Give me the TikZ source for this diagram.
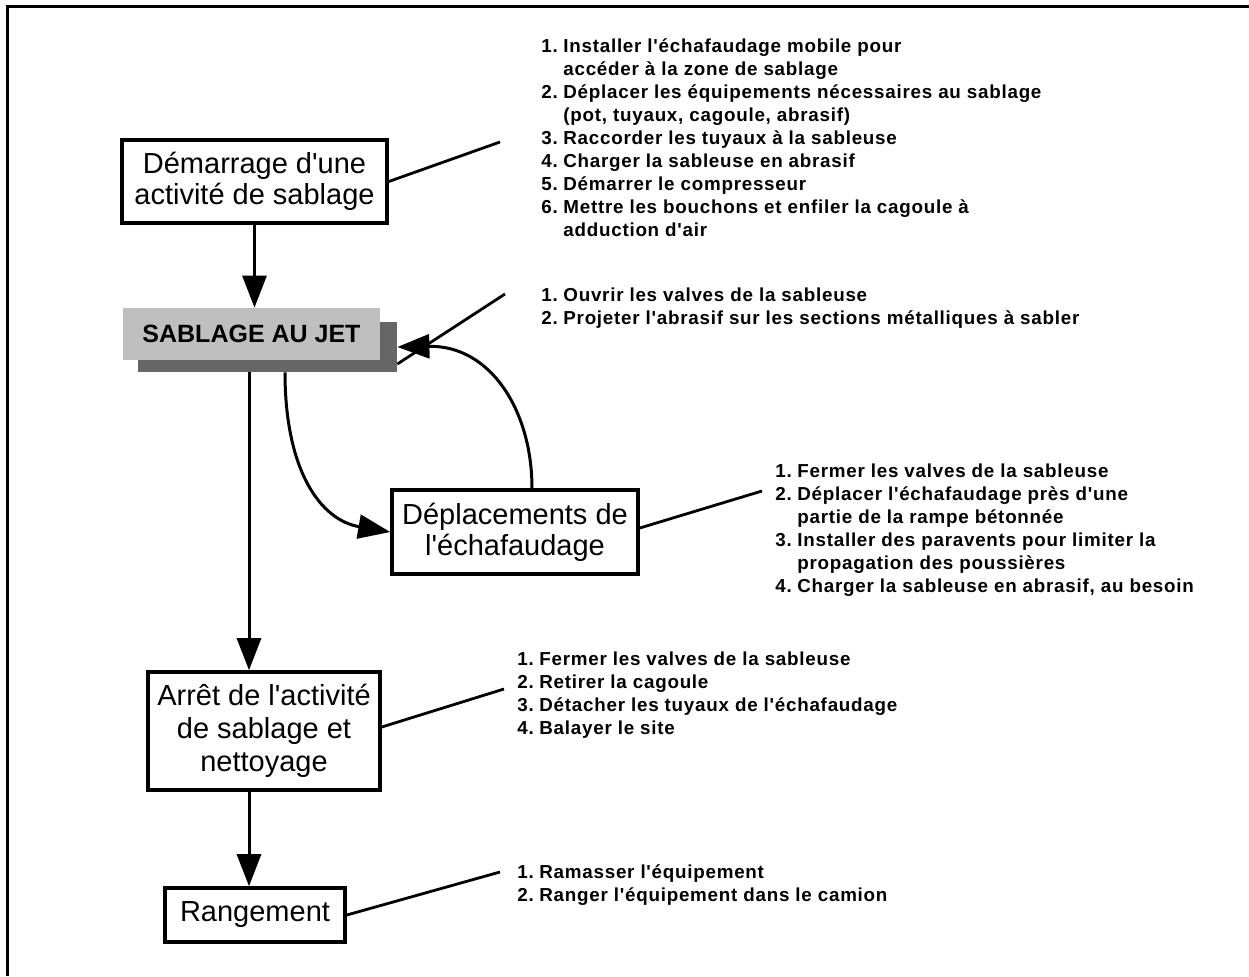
\documentclass[tikz,border=0pt]{standalone}
\usepackage{fontspec}
\setmainfont{Liberation Sans}
\newfontfamily\listfont[LetterSpace=4]{Liberation Sans}
\newfontfamily\boxfont{Liberation Sans}
\usetikzlibrary{arrows.meta}
\newcommand{\steps}[1]{\begin{tabular}[t]{@{}p{11pt}@{}l@{}}#1\end{tabular}}
\begin{document}
\begin{tikzpicture}[x=0.5pt,y=-0.5pt,
  box/.style={draw,line width=1.8pt,align=center,inner sep=0pt,font=\boxfont\fontsize{14.5}{15.5}\selectfont},
  steplist/.style={anchor=base west,inner sep=0pt,font=\listfont\bfseries\fontsize{9.4}{11.5}\selectfont},
  link/.style={line width=1.4pt},
  flow/.style={line width=1.5pt,-{Triangle[length=16pt,width=12pt]}},
]
\useasboundingbox (0,0) rectangle (1249,976);
\draw[line width=1.5pt] (1249,6) -- (7,6) -- (7,976);

% boxes
\node[box,minimum width=132.5pt,minimum height=41.5pt] (b1) at (254.5,181.5) {Démarrage d'une\\activité de sablage};
\node[fill=black!60,minimum width=129.5pt,minimum height=25pt,inner sep=0pt] (sabsh) at (267.5,347) {};
\node[fill=black!25,minimum width=128.5pt,minimum height=26pt,inner sep=0pt,font=\bfseries\fontsize{12.5}{13}\selectfont] (sab) at (251.5,334) {SABLAGE AU JET};
\node[box,minimum width=123pt,minimum height=42pt] (dep) at (515,532) {Déplacements de\\l'échafaudage};
\node[box,minimum width=116pt,minimum height=59pt,font=\boxfont\fontsize{14.5}{16.5}\selectfont] (arr) at (264,731) {Arrêt de l'activité\\de sablage et\\nettoyage};
\node[box,minimum width=90pt,minimum height=27pt] (ran) at (255,915) {Rangement};

% step lists
\node[steplist] (s1) at (541,52) {\steps{
1. & Installer l'échafaudage mobile pour\\
   & accéder à la zone de sablage\\
2. & Déplacer les équipements nécessaires au sablage\\
   & (pot, tuyaux, cagoule, abrasif)\\
3. & Raccorder les tuyaux à la sableuse\\
4. & Charger la sableuse en abrasif\\
5. & Démarrer le compresseur\\
6. & Mettre les bouchons et enfiler la cagoule à\\
   & adduction d'air}};
\node[steplist] (s2) at (541,301) {\steps{
1. & Ouvrir les valves de la sableuse\\
2. & Projeter l'abrasif sur les sections métalliques à sabler}};
\node[steplist] (s3) at (775,477) {\steps{
1. & Fermer les valves de la sableuse\\
2. & Déplacer l'échafaudage près d'une\\
   & partie de la rampe bétonnée\\
3. & Installer des paravents pour limiter la\\
   & propagation des poussières\\
4. & Charger la sableuse en abrasif, au besoin}};
\node[steplist] (s4) at (517,665) {\steps{
1. & Fermer les valves de la sableuse\\
2. & Retirer la cagoule\\
3. & Détacher les tuyaux de l'échafaudage\\
4. & Balayer le site}};
\node[steplist] (s5) at (517,878) {\steps{
1. & Ramasser l'équipement\\
2. & Ranger l'équipement dans le camion}};

% free ends of the leader lines
\coordinate (e1) at (500,142);
\coordinate (e2) at (505,294);
\coordinate (e3) at (762,491);
\coordinate (e4) at (504,689);
\coordinate (e5) at (500,872);
\coordinate (vx) at (249,0);

\draw[link] (b1.east) -- (e1);
\draw[link] ([yshift=-8.5pt]sabsh.east) -- (e2);
\draw[link] ([yshift=2pt]dep.east) -- (e3);
\draw[link] ([yshift=2pt]arr.east) -- (e4);
\draw[link] (ran.east) -- (e5);

% flow arrows
\draw[flow] (b1.south) -- (sab.north -| b1.south);
\draw[flow] (sabsh.south -| vx) -- (arr.north -| vx);
\draw[flow] (arr.south -| vx) -- (ran.north -| vx);
\draw[flow] ([xshift=8.5pt]dep.north) .. controls (532,410) and (490,345) .. (sabsh.east);
\draw[flow] (sabsh.south -| 285,0) .. controls (285,470) and (320,520) .. (dep.west);
\end{tikzpicture}
\end{document}
